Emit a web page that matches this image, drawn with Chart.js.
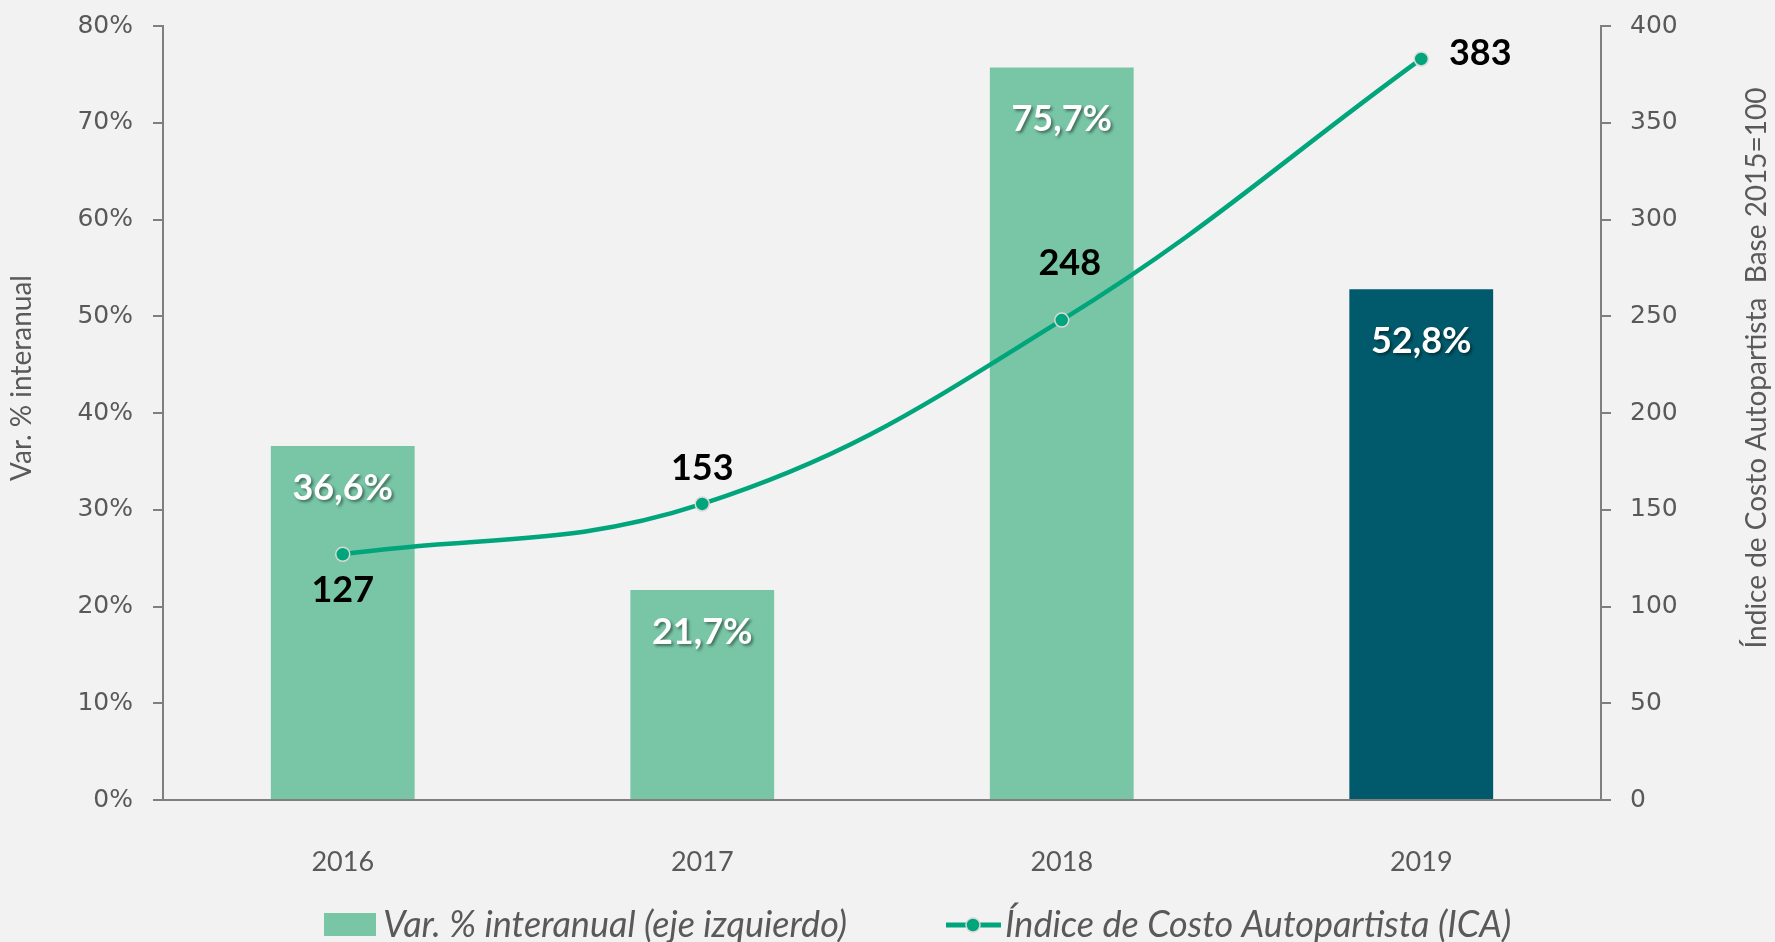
<!DOCTYPE html>
<html>
<head>
<meta charset="utf-8">
<script src="https://cdn.jsdelivr.net/npm/chart.js@4.4.1/dist/chart.umd.min.js"></script>
<style>
  html, body { margin: 0; padding: 0; background: #f2f2f2; }
  #wrap { width: 1775px; height: 942px; }
</style>
</head>
<body>
<div id="wrap"><canvas id="chart"></canvas></div>
<script>
const years = ["2016", "2017", "2018", "2019"];
const varInteranual = [36.6, 21.7, 75.7, 52.8];   // eje izquierdo, %
const indiceICA = [127, 153, 248, 383];           // eje derecho, base 2015=100

const barColors = ["#78c6a6", "#78c6a6", "#78c6a6", "#005a6b"];
const lineColor = "#00a57c";
const grey = "#7f7f7f";
const textGrey = "#595959";

function fmtPct(v) {
  return v.toFixed(1).replace(".", ",") + "%";
}

const labelsPlugin = {
  id: "labels",
  afterDatasetsDraw(chart) {
    const ctx = chart.ctx;
    ctx.save();
    ctx.textAlign = "center";
    ctx.textBaseline = "middle";

    // etiquetas blancas dentro de las barras
    const barOffs = [42, 42, 52, 52];
    ctx.font = "bold 36px Lato";
    ctx.fillStyle = "#ffffff";
    ctx.shadowColor = "rgba(0,0,0,0.45)";
    ctx.shadowBlur = 3;
    ctx.shadowOffsetX = 2;
    ctx.shadowOffsetY = 2;
    chart.getDatasetMeta(0).data.forEach((el, i) => {
      ctx.fillText(fmtPct(varInteranual[i]), el.x, el.y + barOffs[i]);
    });

    // etiquetas negras de la línea
    ctx.shadowColor = "transparent";
    ctx.fillStyle = "#000000";
    const offs = [[0, 36], [0, -36], [8, -57], [59, -6]];
    chart.getDatasetMeta(1).data.forEach((pt, i) => {
      ctx.fillText(String(indiceICA[i]), pt.x + offs[i][0], pt.y + offs[i][1]);
    });
    ctx.restore();
  },
  afterDraw(chart) {
    const ctx = chart.ctx;
    ctx.save();
    ctx.fillStyle = textGrey;
    ctx.textAlign = "center";
    ctx.textBaseline = "middle";

    // títulos de ejes
    ctx.font = "28px Lato";
    ctx.save();
    ctx.translate(22, 378);
    ctx.rotate(-Math.PI / 2);
    ctx.fillText("Var. % interanual", 0, 0);
    ctx.restore();
    ctx.save();
    ctx.translate(1757, 368);
    ctx.rotate(-Math.PI / 2);
    ctx.fillText("Índice de Costo Autopartista  Base 2015=100", 0, 0);
    ctx.restore();

    // leyenda
    const ly = 925;
    ctx.fillStyle = barColors[0];
    ctx.fillRect(324, 913, 52, 23);
    ctx.strokeStyle = lineColor;
    ctx.lineWidth = 5;
    ctx.beginPath();
    ctx.moveTo(946, ly);
    ctx.lineTo(1001, ly);
    ctx.stroke();
    ctx.beginPath();
    ctx.arc(973, ly, 7, 0, Math.PI * 2);
    ctx.fillStyle = lineColor;
    ctx.fill();
    ctx.strokeStyle = "#d9d9d9";
    ctx.lineWidth = 1.5;
    ctx.stroke();

    ctx.fillStyle = textGrey;
    ctx.textAlign = "left";
    ctx.font = "italic 36px Lato";
    ctx.fillText("Var. % interanual (eje izquierdo)", 383, ly);
    ctx.fillText("Índice de Costo Autopartista (ICA)", 1005, ly);
    ctx.restore();
  }
};

// ancho fijo del eje y sin relleno extra arriba/abajo
function fixAxis(width) {
  return s => {
    s.width = width;
    s.paddingTop = 0;
    s.paddingBottom = 0;
  };
}

new Chart(document.getElementById("chart"), {
  data: {
    labels: years,
    datasets: [
      {
        type: "bar",
        label: "Var. % interanual (eje izquierdo)",
        data: varInteranual,
        yAxisID: "y",
        backgroundColor: barColors,
        barPercentage: 0.4,
        categoryPercentage: 1,
        order: 2
      },
      {
        type: "line",
        label: "Índice de Costo Autopartista (ICA)",
        data: indiceICA,
        yAxisID: "y1",
        borderColor: lineColor,
        borderWidth: 4.5,
        tension: 0.4,
        pointRadius: 7,
        pointBackgroundColor: lineColor,
        pointBorderColor: "#d9d9d9",
        pointBorderWidth: 1.5,
        order: 1
      }
    ]
  },
  options: {
    responsive: true,
    maintainAspectRatio: false,
    animation: false,
    layout: { padding: { top: 26, left: 0, right: 0, bottom: 0 } },
    plugins: {
      legend: { display: false },
      tooltip: { enabled: false }
    },
    scales: {
      x: {
        grid: { display: false },
        border: { color: grey, width: 2 },
        ticks: { color: textGrey, font: { family: "Lato", size: 27 }, padding: 38 },
        afterFit: s => { s.height = 142; s.paddingLeft = 0; s.paddingRight = 0; }
      },
      y: {
        position: "left",
        min: 0, max: 80,
        ticks: { stepSize: 10, color: textGrey, font: { family: "DejaVu Sans", size: 25 }, padding: 20,
                 callback: v => v + "%" },
        grid: { drawOnChartArea: false, color: grey, lineWidth: 2, tickLength: 10 },
        border: { color: grey, width: 2 },
        afterFit: fixAxis(163)
      },
      y1: {
        position: "right",
        min: 0, max: 400,
        ticks: { stepSize: 50, color: textGrey, font: { family: "DejaVu Sans", size: 25 }, padding: 19 },
        grid: { drawOnChartArea: false, color: grey, lineWidth: 2, tickLength: 10 },
        border: { color: grey, width: 2 },
        afterFit: fixAxis(174)
      }
    }
  },
  plugins: [labelsPlugin]
});
</script>
</body>
</html>
